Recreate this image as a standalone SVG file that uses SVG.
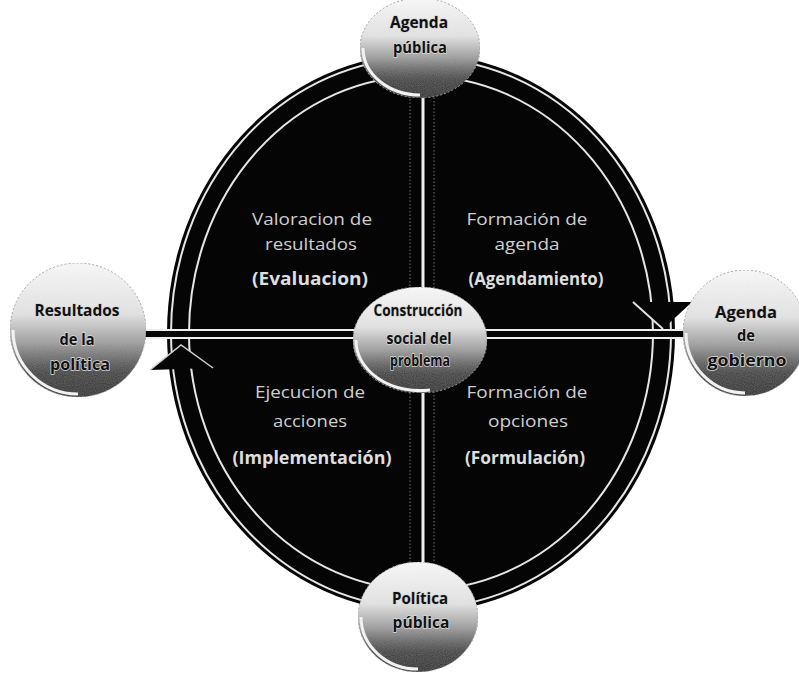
<svg xmlns="http://www.w3.org/2000/svg" width="799" height="673" viewBox="0 0 799 673">
<defs>
  <linearGradient id="sphere" x1="0" y1="0" x2="0" y2="1">
    <stop offset="0" stop-color="#fbfbfb"/>
    <stop offset="0.38" stop-color="#e4e4e4"/>
    <stop offset="0.6" stop-color="#9a9a9a"/>
    <stop offset="0.82" stop-color="#333333"/>
    <stop offset="1" stop-color="#111111"/>
  </linearGradient>
  <filter id="speckle" x="0" y="0" width="1" height="1">
    <feTurbulence type="fractalNoise" baseFrequency="0.9" numOctaves="1" seed="3" result="n"/>
    <feColorMatrix in="n" type="matrix" values="0 0 0 0 0.55  0 0 0 0 0.55  0 0 0 0 0.55  0 0 0 0.22 0" result="g"/>
    <feComposite in="g" in2="SourceGraphic" operator="atop"/>
  </filter>
  <style>
    .ball { fill: url(#sphere); stroke: #a0a0a0; stroke-width: 1; stroke-dasharray: 2 2; }
    .hl { fill: none; stroke: #f2f2f2; stroke-width: 3; }
    .nt { font-family: "Open Sans", "Liberation Sans", sans-serif; font-weight: bold; font-size: 16px; fill: #111; text-anchor: middle; stroke: #d8d8d8; stroke-width: 1.5; paint-order: stroke; }
    .qt { font-family: "Open Sans", "Liberation Sans", sans-serif; font-size: 17px; fill: #cfcfcf; text-anchor: middle; }
    .qb { font-family: "Open Sans", "Liberation Sans", sans-serif; font-size: 17px; font-weight: bold; fill: #dedede; text-anchor: middle; }
  </style>
</defs>
<rect width="799" height="673" fill="#ffffff"/>

<g id="cycle">
  <ellipse cx="421" cy="333" rx="254" ry="279" fill="#050505"/>
  <ellipse cx="421" cy="333" rx="241" ry="266" fill="none" stroke="#e6e6e6" stroke-width="20"/>
  <ellipse cx="421" cy="333" rx="241" ry="266" fill="none" stroke="#050505" stroke-width="16"/>
</g>

<g id="connectors">
  <polygon points="633,302 692,302 663,329" fill="#050505"/>
  <polyline points="633,302 663,329" fill="none" stroke="#e0e0e0" stroke-width="2"/>
  <polygon points="150,370 213,368 181,345" fill="#050505"/>
  <polyline points="150,370 181,345 213,368" fill="none" stroke="#d0d0d0" stroke-width="1.5"/>
  <rect x="140" y="330" width="550" height="8" fill="#050505" stroke="#eeeeee" stroke-width="2"/>
  <rect x="410" y="90" width="24" height="480" fill="#050505" stroke="#777777" stroke-width="1" stroke-dasharray="1.5 2"/>
  <line x1="423" y1="90" x2="423" y2="570" stroke="#f0f0f0" stroke-width="3"/>
</g>

<g id="q-evaluacion">
  <text class="qt" x="312" y="225" textLength="120" lengthAdjust="spacingAndGlyphs">Valoracion de</text>
  <text class="qt" x="311" y="250" textLength="92" lengthAdjust="spacingAndGlyphs">resultados</text>
  <text class="qb" x="310" y="285" textLength="116" lengthAdjust="spacingAndGlyphs">(Evaluacion)</text>
</g>
<g id="q-agendamiento">
  <text class="qt" x="527" y="225" textLength="121" lengthAdjust="spacingAndGlyphs">Formación de</text>
  <text class="qt" x="527" y="250" textLength="65" lengthAdjust="spacingAndGlyphs">agenda</text>
  <text class="qb" x="536" y="285" textLength="135" lengthAdjust="spacingAndGlyphs">(Agendamiento)</text>
</g>
<g id="q-implementacion">
  <text class="qt" x="310" y="398" textLength="110" lengthAdjust="spacingAndGlyphs">Ejecucion de</text>
  <text class="qt" x="310" y="427" textLength="74" lengthAdjust="spacingAndGlyphs">acciones</text>
  <text class="qb" x="312" y="464" textLength="159" lengthAdjust="spacingAndGlyphs">(Implementación)</text>
</g>
<g id="q-formulacion">
  <text class="qt" x="527" y="398" textLength="121" lengthAdjust="spacingAndGlyphs">Formación de</text>
  <text class="qt" x="528" y="427" textLength="80" lengthAdjust="spacingAndGlyphs">opciones</text>
  <text class="qb" x="525" y="464" textLength="120" lengthAdjust="spacingAndGlyphs">(Formulación)</text>
</g>

<g id="n-agenda-publica">
  <ellipse class="ball" cx="420" cy="48" rx="60" ry="50" filter="url(#speckle)"/>
  <path class="hl" d="M 363 48 A 57 47 0 0 0 420 95"/>
  <text class="nt" x="419" y="28" textLength="58" lengthAdjust="spacingAndGlyphs">Agenda</text>
  <text class="nt" x="420" y="53" textLength="54" lengthAdjust="spacingAndGlyphs">pública</text>
</g>

<g id="n-resultados">
  <ellipse class="ball" cx="78" cy="330" rx="68" ry="67" filter="url(#speckle)"/>
  <path class="hl" d="M 13 330 A 65 64 0 0 0 78 394"/>
  <text class="nt" x="77" y="316" textLength="85" lengthAdjust="spacingAndGlyphs">Resultados</text>
  <text class="nt" x="77" y="345" textLength="35" lengthAdjust="spacingAndGlyphs">de la</text>
  <text class="nt" x="80" y="370" textLength="60" lengthAdjust="spacingAndGlyphs">política</text>
</g>

<g id="n-agenda-gobierno">
  <ellipse class="ball" cx="745" cy="333" rx="62" ry="63" filter="url(#speckle)"/>
  <path class="hl" d="M 686 333 A 59 60 0 0 0 745 393"/>
  <text class="nt" x="746" y="318" textLength="62" lengthAdjust="spacingAndGlyphs">Agenda</text>
  <text class="nt" x="746" y="341" textLength="18" lengthAdjust="spacingAndGlyphs">de</text>
  <text class="nt" x="747" y="366" textLength="79" lengthAdjust="spacingAndGlyphs">gobierno</text>
</g>

<g id="n-politica-publica">
  <ellipse class="ball" cx="418" cy="617" rx="60" ry="55" filter="url(#speckle)"/>
  <path class="hl" d="M 361 617 A 57 52 0 0 0 418 669"/>
  <text class="nt" x="420" y="604" textLength="56" lengthAdjust="spacingAndGlyphs">Política</text>
  <text class="nt" x="421" y="628" textLength="57" lengthAdjust="spacingAndGlyphs">pública</text>
</g>

<g id="n-construccion">
  <ellipse class="ball" cx="420" cy="340" rx="67" ry="53" filter="url(#speckle)"/>
  <path class="hl" d="M 356 340 A 64 50 0 0 0 430 390"/>
  <text class="nt" x="418" y="316" textLength="89" lengthAdjust="spacingAndGlyphs">Construcción</text>
  <text class="nt" x="419" y="344" textLength="65" lengthAdjust="spacingAndGlyphs">social del</text>
  <text class="nt" x="420" y="366" textLength="60" lengthAdjust="spacingAndGlyphs">problema</text>
</g>
</svg>
